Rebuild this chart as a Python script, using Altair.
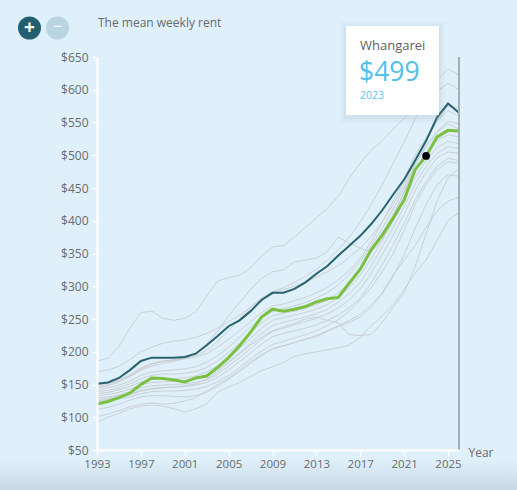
import altair as alt
import pandas as pd

# ---- data: mean weekly rent by region, 1993-2026 ----
years = list(range(1993, 2027))

auckland = [151, 153, 160, 172, 186, 191, 191, 191, 192, 197, 210, 224, 239, 248, 262,
            279, 290, 290, 296, 306, 319, 331, 347, 362, 377, 395, 416, 440, 463, 492,
            522, 558, 579, 565]

whangarei = [120, 124, 130, 137, 150, 160, 159, 157, 154, 160, 163, 176, 191, 209, 230,
             253, 265, 262, 265, 269, 276, 281, 283, 305, 326, 356, 378, 404, 432, 478,
             499, 528, 538, 537]

other_regions = {
    "Queenstown-Lakes": [186, 190, 208, 236, 260, 262, 251, 248, 251, 261, 285, 308, 313, 317, 328,
                         346, 360, 362, 375, 390, 404, 419, 437, 465, 488, 508, 522, 540, 556, 575,
                         592, 615, 632, 622],
    "Wellington": [170, 172, 178, 188, 200, 207, 213, 216, 218, 222, 228, 236, 246, 256, 268,
                   280, 290, 295, 300, 306, 314, 322, 332, 344, 358, 376, 398, 425, 455, 492,
                   522, 552, 575, 572],
    "Christchurch": [147, 150, 155, 162, 172, 178, 182, 185, 190, 198, 212, 232, 255, 275, 295,
                     312, 322, 325, 337, 340, 343, 353, 375, 366, 358, 352, 372, 405, 445, 485,
                     515, 535, 548, 540],
    "Tauranga": [150, 152, 157, 165, 175, 182, 186, 188, 190, 194, 202, 216, 232, 250, 268,
                 282, 292, 298, 306, 315, 326, 340, 356, 375, 398, 425, 455, 488, 520, 555,
                 580, 598, 610, 600],
    "Waikato": [145, 148, 154, 163, 174, 181, 185, 187, 189, 192, 197, 207, 219, 232, 246,
                260, 270, 273, 278, 283, 290, 298, 310, 324, 342, 368, 398, 430, 462, 500,
                527, 553, 568, 560],
    "Nelson": [142, 145, 149, 155, 164, 169, 171, 172, 174, 177, 184, 194, 207, 222, 238,
               252, 262, 266, 270, 275, 282, 290, 302, 318, 338, 362, 388, 418, 450, 488,
               512, 536, 552, 548],
    "Tasman": [139, 141, 145, 151, 159, 164, 166, 166, 167, 170, 176, 186, 199, 213, 229,
               244, 255, 259, 262, 266, 272, 279, 290, 306, 328, 352, 380, 410, 443, 478,
               503, 523, 531, 528],
    "Marlborough": [136, 138, 142, 147, 154, 158, 159, 159, 160, 163, 169, 179, 191, 205, 220,
                    236, 248, 252, 256, 260, 265, 272, 283, 298, 317, 342, 370, 400, 432, 466,
                    492, 512, 521, 518],
    "Otago": [133, 135, 138, 143, 150, 153, 154, 155, 155, 158, 163, 172, 185, 198, 213,
              228, 240, 245, 249, 253, 258, 265, 276, 289, 306, 331, 360, 390, 421, 456,
              483, 503, 513, 510],
    "Hawke's Bay": [130, 131, 134, 139, 145, 148, 149, 150, 151, 153, 157, 166, 178, 191, 205,
                    219, 231, 236, 241, 246, 251, 258, 267, 279, 296, 320, 348, 378, 410, 446,
                    474, 496, 505, 503],
    "Bay of Plenty": [127, 129, 132, 136, 141, 144, 145, 146, 147, 149, 153, 161, 172, 185, 198,
                      212, 223, 228, 232, 236, 241, 248, 256, 267, 282, 305, 333, 363, 396, 432,
                      460, 483, 495, 492],
    "West Coast": [125, 127, 130, 134, 140, 143, 145, 146, 148, 151, 158, 170, 183, 197, 210,
                   222, 232, 238, 243, 250, 253, 248, 244, 226, 225, 226, 245, 268, 290, 330,
                   380, 430, 465, 480],
    "Manawatu-Whanganui": [123, 125, 128, 131, 136, 139, 140, 140, 141, 143, 147, 154, 164, 176, 189,
                           201, 211, 216, 221, 226, 232, 240, 249, 262, 279, 298, 322, 350, 385, 425,
                           455, 478, 490, 488],
    "Taranaki": [112, 115, 120, 126, 131, 133, 133, 132, 131, 133, 138, 147, 158, 170, 182,
                 194, 204, 209, 214, 219, 225, 232, 238, 245, 253, 268, 288, 315, 348, 388,
                 425, 455, 470, 468],
    "Gisborne": [101, 105, 110, 116, 120, 122, 120, 121, 125, 130, 140, 150, 160, 172, 185,
                 195, 205, 209, 214, 219, 223, 231, 240, 248, 257, 272, 290, 318, 340, 362,
                 390, 415, 430, 436],
    "Southland": [92, 100, 106, 113, 117, 119, 117, 113, 108, 113, 120, 138, 146, 153, 162,
                  171, 177, 184, 193, 197, 200, 203, 206, 210, 222, 240, 255, 272, 295, 320,
                  340, 370, 400, 413],
}

x_ticks = [1993, 1997, 2001, 2005, 2009, 2013, 2017, 2021, 2025]
y_ticks = [50, 100, 150, 200, 250, 300, 350, 400, 450, 500, 550, 600, 650]

focus_region = "Whangarei"
focus_year = 2023
chart_title = "The mean weekly rent"

# ---- tables ----
gray_rows = []
for name, vals in other_regions.items():
    for yr, v in zip(years, vals):
        gray_rows.append({"region": name, "year": yr, "rent": v})
gray_df = pd.DataFrame(gray_rows)
auck_df = pd.DataFrame({"region": "Auckland", "year": years, "rent": auckland})
whan_df = pd.DataFrame({"region": focus_region, "year": years, "rent": whangarei})

focus_value = whangarei[years.index(focus_year)]
focus_df = pd.DataFrame({
    "year": [focus_year],
    "rent": [focus_value],
    "name": [focus_region],
    "price": [f"${focus_value}"],
    "yr_label": [str(focus_year)],
})
# right-hand edge marker spanning the full rent range
edge_df = pd.DataFrame({"year": [years[-1]], "rent": [y_ticks[-1]], "rent_lo": [y_ticks[0]]})
ui_df = pd.DataFrame({"k": [0]})

FONT = "Open Sans"
BG = "#dff0fb"
TXT = "#6b6b6b"

x_enc = alt.X(
    "year:Q",
    scale=alt.Scale(domain=[1993, 2026], nice=False, zero=False),
    axis=alt.Axis(
        values=x_ticks, format="d", grid=False,
        labelOverlap=False, labelFlush=False,
        domainColor="white", domainWidth=2,
        tickColor="white", tickWidth=1.5, tickSize=6,
        labelColor=TXT, labelFontSize=11.5, labelFont=FONT, labelPadding=2,
        title="Year", titleX=371, titleY=2, titleAlign="left", titleBaseline="middle",
        titleFontWeight="normal", titleColor=TXT, titleFontSize=12, titleFont=FONT,
        zindex=1,
    ),
)
y_enc = alt.Y(
    "rent:Q",
    scale=alt.Scale(domain=[50, 650], nice=False, zero=False),
    axis=alt.Axis(
        values=y_ticks, labelExpr="'$' + datum.value", grid=False,
        labelOverlap=False, labelFlush=False,
        domainColor="white", domainWidth=2,
        tickColor="white", tickWidth=1.5, tickSize=5,
        labelColor=TXT, labelFontSize=12, labelFont=FONT, labelPadding=4,
        title=None, zindex=1,
    ),
)

# soft fade along the bottom edge
fade = alt.Chart(ui_df).mark_rect(
    fill=alt.Gradient(
        gradient="linear",
        stops=[alt.GradientStop(color=BG, offset=0),
               alt.GradientStop(color="#c9d9e4", offset=1)],
        x1=0, x2=0, y1=0, y2=1,
    )
).encode(x=alt.value(-97), x2=alt.value(420), y=alt.value(403), y2=alt.value(433))

gray_lines = alt.Chart(gray_df).mark_line(
    stroke="#c5c8ca", strokeWidth=1, opacity=0.8
).encode(x=x_enc, y=y_enc, detail="region:N")

auck_line = alt.Chart(auck_df).mark_line(
    stroke="#27636f", strokeWidth=2
).encode(x=x_enc, y=y_enc)

whan_line = alt.Chart(whan_df).mark_line(
    stroke="#7ac142", strokeWidth=3
).encode(x=x_enc, y=y_enc)

end_rule = alt.Chart(edge_df).mark_rule(stroke="#a4aeb5", strokeWidth=2).encode(
    x=x_enc, y=y_enc, y2="rent_lo:Q"
)

focus_dot = alt.Chart(focus_df).mark_circle(color="black", opacity=1, size=60).encode(
    x=x_enc, y=y_enc
)

# hover card
shadow = alt.layer(*[
    alt.Chart(ui_df).mark_rect(fill="#7f98a8", opacity=op).encode(
        x=alt.value(249 - d), x2=alt.value(342 + d),
        y=alt.value(-31 - d + 2), y2=alt.value(58 + d + 2),
    )
    for d, op in [(6, 0.04), (4, 0.05), (2, 0.07)]
])
card = alt.Chart(ui_df).mark_rect(fill="white").encode(
    x=alt.value(249), x2=alt.value(342), y=alt.value(-31), y2=alt.value(58)
)
card_name = alt.Chart(focus_df).mark_text(
    align="left", baseline="alphabetic", font=FONT, fontSize=13, color="#5f5f5f"
).encode(x=alt.value(263), y=alt.value(-7), text="name:N")
card_price = alt.Chart(focus_df).mark_text(
    align="left", baseline="alphabetic", font=FONT, fontSize=26.5, color="#4fc1e9"
).encode(x=alt.value(262), y=alt.value(24), text="price:N")
card_year = alt.Chart(focus_df).mark_text(
    align="left", baseline="alphabetic", font=FONT, fontSize=10.5, color="#5bc3e8"
).encode(x=alt.value(263), y=alt.value(42), text="yr_label:N")

# title and zoom buttons
title_txt = alt.Chart(ui_df).mark_text(
    align="left", baseline="alphabetic", font=FONT, fontSize=12, color=TXT, text=chart_title
).encode(x=alt.value(1), y=alt.value(-30))
btn_plus = alt.Chart(ui_df).mark_circle(color="#245f6f", opacity=1, size=529).encode(
    x=alt.value(-67.5), y=alt.value(-29)
)
btn_minus = alt.Chart(ui_df).mark_circle(color="#b9d5e1", opacity=1, size=529).encode(
    x=alt.value(-39.5), y=alt.value(-29)
)
plus_txt = alt.Chart(ui_df).mark_text(
    font=FONT, fontSize=19, fontWeight="bold", color="white", text="+"
).encode(x=alt.value(-67.5), y=alt.value(-29.5))
minus_txt = alt.Chart(ui_df).mark_text(
    font=FONT, fontSize=16, color="white", text="−"
).encode(x=alt.value(-39.5), y=alt.value(-30))

chart = alt.layer(
    fade, gray_lines, auck_line, whan_line, end_rule, focus_dot,
    shadow, card, card_name, card_price, card_year,
    title_txt, btn_plus, btn_minus, plus_txt, minus_txt,
).properties(
    width=362, height=393,
    padding={"left": 97, "top": 57, "right": 58, "bottom": 40},
    autosize=alt.AutoSizeParams(type="none"),
).configure(
    background=BG,
).configure_axis(
    domainColor="white", tickColor="white", grid=False, labelOverlap=False,
).configure_view(stroke=None)

chart.save("out.html", embed_options={"renderer": "svg", "actions": False})
